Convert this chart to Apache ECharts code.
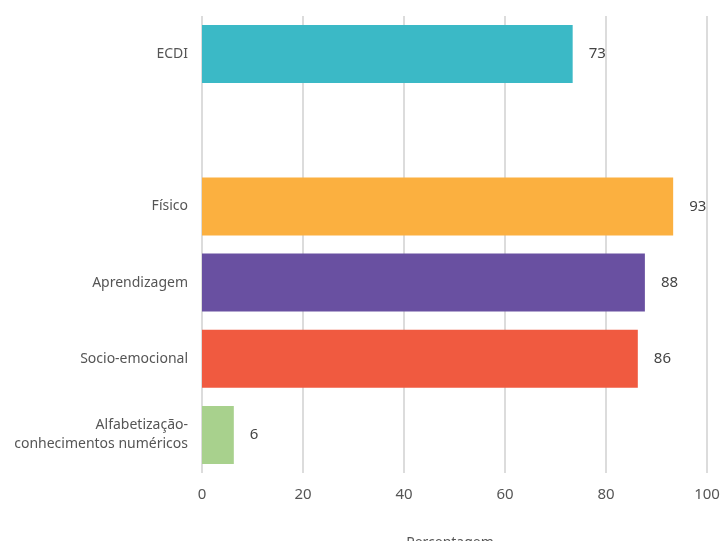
<!DOCTYPE html>
<html>
<head>
<meta charset="utf-8">
<script src="https://cdn.jsdelivr.net/npm/echarts@6/dist/echarts.min.js"></script>
<style>html,body{margin:0;padding:0;background:#fff}#c{width:723px;height:541px}</style>
</head>
<body>
<div id="c"></div>
<script>
var categories = ['ECDI', '', 'Físico', 'Aprendizagem', 'Socio-emocional', 'Alfabetização-\nconhecimentos numéricos'];
var values = [73.4, null, 93.3, 87.7, 86.3, 6.3];
var colors = ['#3BB9C6', '#ffffff', '#FBB040', '#6950A1', '#F05A40', '#A8D18D'];
var xTicks = [0, 20, 40, 60, 80, 100];
var axisName = 'Percentagem';

var font = '"Noto Sans", "Open Sans", sans-serif';
var chart = echarts.init(document.getElementById('c'), null, {renderer: 'canvas'});
chart.setOption({
  animation: false,
  grid: {left: 202, right: 16, top: 16, bottom: 68, containLabel: false, outerBoundsMode: 'none'},
  xAxis: {
    type: 'value', min: xTicks[0], max: xTicks[xTicks.length - 1], interval: 20,
    name: axisName, nameLocation: 'middle', nameGap: 63,
    nameTextStyle: {color: '#555', fontSize: 14, fontFamily: font, padding: [0, 9, 0, 0]},
    axisLine: {show: false}, axisTick: {show: false},
    axisLabel: {color: '#555', fontSize: 15, margin: 14, fontFamily: font},
    splitLine: {show: true, lineStyle: {color: '#dcdcdc', width: 2}}
  },
  yAxis: {
    type: 'category', data: categories, inverse: true,
    axisLine: {show: false}, axisTick: {show: false},
    axisLabel: {color: '#555', fontSize: 14, margin: 14, fontFamily: font, lineHeight: 19, align: 'right'},
    splitLine: {show: false}
  },
  series: [{
    type: 'bar', barWidth: 58,
    data: values.map(function (v, i) {
      return v === null ? '-' : {value: v, itemStyle: {color: colors[i]}};
    }),
    label: {
      show: true, position: 'right', distance: 16, color: '#444', fontSize: 15, fontFamily: font,
      formatter: function (p) { return Math.round(p.value); }
    }
  }]
});
</script>
</body>
</html>
